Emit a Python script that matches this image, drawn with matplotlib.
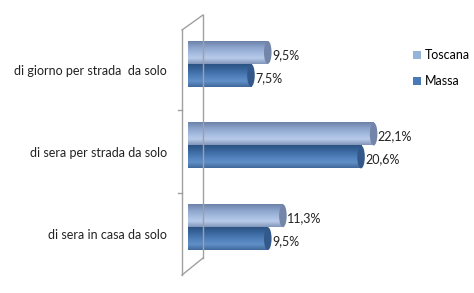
import numpy as np
import matplotlib.pyplot as plt
from matplotlib.patches import Ellipse, Patch
from matplotlib.colors import LinearSegmentedColormap

categories = ['di sera in casa da solo', 'di sera per strada da solo', 'di giorno per strada  da solo']
series = ['Toscana', 'Massa']
toscana = [11.3, 22.1, 9.5]
massa = [9.5, 20.6, 7.5]

plt.rcParams['font.family'] = ['Lato', 'DejaVu Sans']

fig = plt.figure(figsize=(4.74, 2.93), dpi=100)
ax = fig.add_axes([182/474, 25/293, 258/474, 245/293])
ax.axis('off')

cmaps = {
    'Toscana': LinearSegmentedColormap.from_list('t', ['#8296ba', '#b8cbea', '#a2b9de', '#8aa1c9', '#6c82a9']),
    'Massa': LinearSegmentedColormap.from_list('m', ['#41699b', '#6190c8', '#4d7db8', '#3a679e', '#2b5283']),
}
caps = {'Toscana': '#7386aa', 'Massa': '#33598a'}
h = 0.28
grad = np.linspace(0, 1, 64).reshape(-1, 1)

for name, vals, off in [('Toscana', toscana, h / 2), ('Massa', massa, -h / 2)]:
    for i, v in enumerate(vals):
        y0, y1 = i + off - h / 2, i + off + h / 2
        ax.imshow(grad, extent=(0, v, y1, y0), cmap=cmaps[name], aspect='auto', zorder=2)
        ax.add_patch(Ellipse((v, i + off), 0.9, h, facecolor=caps[name], edgecolor='none', zorder=3))
        ax.text(v + 0.5, i + off - 0.03, f'{v:.1f}%'.replace('.', ','), fontsize=9,
                va='center', ha='left', color='#222222', zorder=4)
ax.set_ylim(-0.5, 2.5)
ax.set_xlim(-0.71, 30)

for i, c in enumerate(categories):
    fig.text(167/474, 1 - (227 - 82*i + 8)/293, c, fontsize=9, ha='right', va='center', color='#222222')

# wall lines (figure pixel coordinates)
def px(x, y):
    return x / 474, 1 - y / 293
lc = '#a0a0a0'
for (xa, ya), (xb, yb) in [((182, 30), (182, 275)), ((203, 15), (203, 258)),
                           ((182, 30), (203, 15)), ((182, 275), (203, 258)),
                           ((178, 110), (182, 110)), ((178, 193), (182, 193))]:
    (x0, y0), (x1, y1) = px(xa, ya), px(xb, yb)
    fig.add_artist(plt.Line2D([x0, x1], [y0, y1], color=lc, lw=1))

handles = [Patch(facecolor='#95b3d7', edgecolor='none'), Patch(facecolor='#4a7ab5', edgecolor='none')]
fig.legend(handles, series, loc='upper left', bbox_to_anchor=(402/474, 1 - 38/293), frameon=False,
           fontsize=9, handlelength=0.6, handleheight=0.6, handletextpad=0.3, labelspacing=1.1)

fig.savefig('out.png', dpi=100)
